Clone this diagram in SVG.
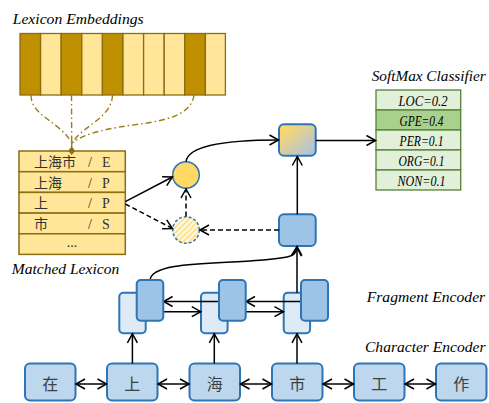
<svg xmlns="http://www.w3.org/2000/svg" width="489" height="403" viewBox="0 0 489 403">
<style>
.lbl{font-family:'Liberation Serif','Times New Roman',serif;font-style:italic;font-size:15.5px;fill:#000}
.sm{font-family:'Liberation Serif','Times New Roman',serif;font-style:italic;font-size:15px;fill:#000;text-anchor:middle}
.cjk{font-family:'Liberation Serif','Noto Sans CJK SC',serif;font-size:14px;fill:#333}
.ch{font-family:'Noto Sans CJK SC',sans-serif;font-size:16px;fill:#404040;text-anchor:middle}
.emb{stroke:#8C6D10;stroke-width:1.3}
.dk{fill:#BF9000}
.lt{fill:#FFE699}
.row{fill:#FFE699;stroke:#8C6D10;stroke-width:1.5}
.smr{fill:#E2F0D9;stroke:#548235;stroke-width:1.3}
.bx{stroke:#2E75B6;stroke-width:2}
.cbox{fill:#BDD7EE;stroke:#2E75B6;stroke-width:2}
.fl{fill:#DEEBF7;stroke:#2E75B6;stroke-width:2}
.fd{fill:#9DC3E6;stroke:#2E75B6;stroke-width:2}
.dd{fill:none;stroke:#9C7C1A;stroke-width:1.4;stroke-dasharray:6 3 1.5 3}
.ar{fill:none;stroke:#000;stroke-width:1.5;marker-end:url(#ah)}
.da{fill:none;stroke:#000;stroke-width:1.5;stroke-dasharray:5 3;marker-end:url(#ah)}
.dbl{fill:none;stroke:#000;stroke-width:1.5;marker-end:url(#ah);marker-start:url(#ahs)}
</style>
<defs>
<marker id="ah" markerUnits="userSpaceOnUse" markerWidth="12" markerHeight="12" refX="9" refY="5" orient="auto" overflow="visible">
<path d="M0,0 L9,5 L0,10" fill="none" stroke="#000" stroke-width="1.5"/>
</marker>
<marker id="ahs" markerUnits="userSpaceOnUse" markerWidth="12" markerHeight="12" refX="9" refY="5" orient="auto-start-reverse" overflow="visible">
<path d="M0,0 L9,5 L0,10" fill="none" stroke="#000" stroke-width="1.5"/>
</marker>
<linearGradient id="gr" x1="0" y1="0" x2="1" y2="1">
<stop offset="0.1" stop-color="#FFD966"/>
<stop offset="0.95" stop-color="#A9C2E4"/>
</linearGradient>
<pattern id="hatch" patternUnits="userSpaceOnUse" width="4" height="4" patternTransform="rotate(45)">
<rect width="4" height="4" fill="#FFF7E0"/>
<line x1="0" y1="0" x2="0" y2="4" stroke="#FFD966" stroke-width="2.4"/>
</pattern>
</defs>

<g id="lexicon-embeddings">
<text class="lbl" x="12.7" y="24" textLength="131" lengthAdjust="spacingAndGlyphs">Lexicon Embeddings</text>
<rect class="dk emb" x="20" y="33.5" width="20.6" height="61.5"/>
<rect class="lt emb" x="40.6" y="33.5" width="20.6" height="61.5"/>
<rect class="dk emb" x="61.2" y="33.5" width="20.6" height="61.5"/>
<rect class="lt emb" x="81.8" y="33.5" width="20.6" height="61.5"/>
<rect class="dk emb" x="102.4" y="33.5" width="20.6" height="61.5"/>
<rect class="lt emb" x="123" y="33.5" width="20.6" height="61.5"/>
<rect class="lt emb" x="143.6" y="33.5" width="20.6" height="61.5"/>
<rect class="lt emb" x="164.2" y="33.5" width="20.6" height="61.5"/>
<rect class="dk emb" x="184.8" y="33.5" width="20.6" height="61.5"/>
<rect class="lt emb" x="205.4" y="33.5" width="20" height="61.5"/>
</g>

<g id="matched-lexicon">
<rect class="row" x="19" y="151" width="106.3" height="20.7"/>
<rect class="row" x="19" y="171.7" width="106.3" height="20.7"/>
<rect class="row" x="19" y="192.4" width="106.3" height="20.7"/>
<rect class="row" x="19" y="213.1" width="106.3" height="20.7"/>
<rect class="row" x="19" y="233.8" width="106.3" height="20.6"/>
<text class="cjk" x="34" y="167">上海市</text><text class="cjk" x="88" y="167">/</text><text class="cjk" x="102" y="167">E</text>
<text class="cjk" x="34" y="187.7">上海</text><text class="cjk" x="88" y="187.7">/</text><text class="cjk" x="102" y="187.7">P</text>
<text class="cjk" x="34" y="208.4">上</text><text class="cjk" x="88" y="208.4">/</text><text class="cjk" x="102" y="208.4">P</text>
<text class="cjk" x="34" y="229.1">市</text><text class="cjk" x="88" y="229.1">/</text><text class="cjk" x="102" y="229.1">S</text>
<text class="cjk" x="72" y="247" text-anchor="middle">...</text>
<text class="lbl" x="11.7" y="274" textLength="107.5" lengthAdjust="spacingAndGlyphs">Matched Lexicon</text>
</g>

<g id="lexicon-circle">
<circle cx="186" cy="175" r="13.3" fill="#FFD966" stroke="#2E75B6" stroke-width="1.5"/>
</g>
<g id="hatched-circle">
<circle cx="186" cy="230" r="13.3" fill="url(#hatch)" stroke="#2E75B6" stroke-width="1.5" stroke-dasharray="3 2"/>
</g>

<g id="fusion-box">
<rect class="bx" x="279" y="124.3" width="36.7" height="31.4" rx="5" fill="url(#gr)"/>
</g>
<g id="fragment-rep">
<rect class="fd" x="279" y="214.3" width="36.7" height="31.7" rx="5"/>
</g>

<g id="softmax">
<text class="lbl" x="371.7" y="80.5" textLength="114" lengthAdjust="spacingAndGlyphs">SoftMax Classifier</text>
<rect class="smr" x="376" y="90" width="84.7" height="20"/>
<rect class="smr" x="376" y="110" width="84.7" height="20" style="fill:#A9D18E"/>
<rect class="smr" x="376" y="130" width="84.7" height="20"/>
<rect class="smr" x="376" y="150" width="84.7" height="20"/>
<rect class="smr" x="376" y="170" width="84.7" height="20"/>
<text class="sm" x="423" y="105.5" textLength="49" lengthAdjust="spacingAndGlyphs">LOC=0.2</text>
<text class="sm" x="421.5" y="125.5" textLength="44" lengthAdjust="spacingAndGlyphs">GPE=0.4</text>
<text class="sm" x="421.5" y="145.5" textLength="44" lengthAdjust="spacingAndGlyphs">PER=0.1</text>
<text class="sm" x="421.5" y="165.5" textLength="46" lengthAdjust="spacingAndGlyphs">ORG=0.1</text>
<text class="sm" x="421.5" y="185.5" textLength="48" lengthAdjust="spacingAndGlyphs">NON=0.1</text>
</g>

<g id="fragment-encoder">
<text class="lbl" x="366.7" y="301.5" textLength="118.5" lengthAdjust="spacingAndGlyphs">Fragment Encoder</text>
<rect class="fl" x="119.3" y="292.7" width="26.4" height="40.6" rx="4"/>
<rect class="fl" x="201" y="292.7" width="26.6" height="40.6" rx="4"/>
<rect class="fl" x="283.7" y="292.7" width="26.4" height="40.6" rx="4"/>
</g>

<g id="character-encoder">
<text class="lbl" x="365" y="352" textLength="120.5" lengthAdjust="spacingAndGlyphs">Character Encoder</text>
<rect class="cbox" x="25" y="363.5" width="50.5" height="37" rx="5"/>
<rect class="cbox" x="107" y="363.5" width="50.5" height="37" rx="5"/>
<rect class="cbox" x="189.5" y="363.5" width="50.5" height="37" rx="5"/>
<rect class="cbox" x="272" y="363.5" width="50.5" height="37" rx="5"/>
<rect class="cbox" x="354" y="363.5" width="50.5" height="37" rx="5"/>
<rect class="cbox" x="436" y="363.5" width="50.5" height="37" rx="5"/>
<text class="ch" x="50.3" y="390">在</text>
<text class="ch" x="132.3" y="390">上</text>
<text class="ch" x="214.8" y="390">海</text>
<text class="ch" x="297.3" y="390">市</text>
<text class="ch" x="379.3" y="390">工</text>
<text class="ch" x="461.3" y="390">作</text>
</g>

<g id="connectors">
<path class="dd" d="M31,95 C31,116 58,120 72,143"/>
<path class="dd" d="M71.5,95 L71.7,143"/>
<path class="dd" d="M112.5,95 C112,118 82,126 72,143"/>
<path class="dd" d="M194,95 C192,113 170,120 140,124 C110,128 84,133 72,143"/>
<line x1="71.7" y1="143" x2="71.7" y2="150" stroke="#9C7C1A" stroke-width="1.4"/>
<polygon points="71.7,146.5 75.2,150.7 71.7,154.9 68.2,150.7" fill="#8C6D10"/>

<path class="ar" d="M125.3,201.7 L172.4,177"/>
<path class="da" d="M125.3,204 L172.4,228.5"/>
<path class="da" d="M186,216.5 L186,189"/>
<path class="ar" d="M186,161.7 C188,145 230,140 278.5,140"/>
<path class="da" d="M279,230 L200,230"/>
<path class="ar" d="M297.3,214.3 L297.3,156.5"/>
<path class="ar" d="M315.7,140.5 L375.5,140.5"/>

<path class="ar" d="M297,292.7 L297,246.5"/>
<path class="ar" d="M150,280 C152,258 240,266 287,257 C294,255.5 296.5,253 296.8,247"/>

<path class="ar" d="M219,301.5 L163.6,301.5"/>
<path class="ar" d="M163.3,311.7 L200.8,311.7"/>
<path class="ar" d="M301,301.5 L246,301.5"/>
<path class="ar" d="M245.7,311.7 L283.5,311.7"/>

<path class="ar" d="M132.4,363.5 L132.4,333.8"/>
<path class="ar" d="M214.3,363.5 L214.3,333.8"/>
<path class="ar" d="M297,363.5 L297,333.8"/>

<path class="dbl" d="M76,384 L106.5,384"/>
<path class="dbl" d="M158,384 L189,384"/>
<path class="dbl" d="M240.5,384 L271.5,384"/>
<path class="dbl" d="M323,384 L353.5,384"/>
<path class="dbl" d="M405,384 L435.5,384"/>
</g>

<g id="fragment-encoder-front">
<rect class="fd" x="136.7" y="280" width="26.6" height="40.7" rx="4"/>
<rect class="fd" x="219" y="280" width="26.7" height="40.7" rx="4"/>
<rect class="fd" x="301" y="280" width="27" height="40.7" rx="4"/>
</g>
</svg>
